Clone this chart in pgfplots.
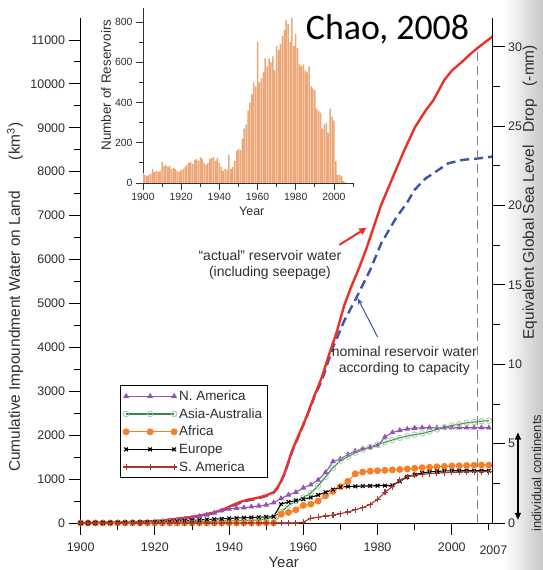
\documentclass[border=0pt]{standalone}
\usepackage{pgfplots}
\pgfplotsset{compat=1.18}
\usepackage{pgfplotstable}
\usepackage{fontspec}
\setmainfont{Liberation Sans}
\newfontfamily\carlito{Carlito}
\usetikzlibrary{arrows.meta}

\definecolor{barc}{RGB}{236,168,120}
\definecolor{redl}{RGB}{236,48,40}
\definecolor{bluel}{RGB}{58,84,170}
\definecolor{purp}{RGB}{150,80,185}
\definecolor{grn}{RGB}{55,135,75}
\definecolor{lgrn}{RGB}{150,205,150}
\definecolor{orng}{RGB}{245,128,40}
\definecolor{brn}{RGB}{165,55,45}
\definecolor{txtg}{RGB}{45,45,45}

\pgfplotstableread{
year na asia africa europe sa
1900 0 0 0 0 0
1902 2 0 0 2 0
1904 4 0 0 4 0
1906 6 0 0 6 0
1908 8 2 0 8 0
1910 10 4 0 10 0
1912 14 6 0 12 0
1914 18 8 0 14 0
1916 22 10 0 16 0
1918 26 12 0 18 0
1920 30 14 0 20 0
1922 40 16 0 26 0
1924 50 18 0 34 0
1926 62 20 0 42 0
1928 80 24 0 50 0
1930 110 28 0 60 0
1932 150 32 0 70 0
1934 185 36 0 80 0
1936 230 40 0 88 0
1938 280 44 0 96 0
1940 320 48 0 104 0
1942 340 52 0 112 0
1944 350 56 0 120 0
1946 370 60 0 126 0
1948 390 70 0 132 0
1950 410 90 0 138 0
1952 460 140 0 145 0
1954 560 250 200 430 0
1956 640 400 240 480 0
1958 700 500 300 510 0
1960 800 580 400 540 20
1962 870 680 430 580 110
1964 980 850 500 640 130
1966 1150 1050 620 700 160
1968 1400 1260 720 760 180
1970 1460 1420 830 820 210
1972 1560 1510 950 830 250
1974 1640 1600 1120 835 300
1976 1690 1670 1160 840 350
1978 1720 1730 1180 845 420
1980 1760 1790 1190 850 540
1982 1960 1840 1200 850 700
1984 2060 1890 1210 860 830
1986 2110 1940 1220 950 980
1988 2140 1980 1230 1050 1050
1990 2160 2010 1245 1100 1090
1992 2170 2040 1260 1140 1110
1994 2170 2080 1270 1165 1125
1996 2170 2130 1280 1175 1135
1998 2170 2180 1290 1185 1145
2000 2170 2220 1300 1190 1150
2002 2170 2250 1305 1190 1160
2004 2170 2280 1310 1190 1165
2006 2170 2300 1315 1190 1170
2008 2170 2320 1320 1190 1170
2010 2170 2330 1320 1190 1170
}\cont

\pgfplotstableread{
year n
1900 50
1901 40
1902 35
1903 40
1904 45
1905 70
1906 55
1907 60
1908 55
1909 60
1910 105
1911 85
1912 90
1913 80
1914 85
1915 70
1916 75
1917 70
1918 60
1919 55
1920 65
1921 70
1922 80
1923 90
1924 100
1925 105
1926 95
1927 115
1928 120
1929 110
1930 130
1931 120
1932 100
1933 90
1934 100
1935 120
1936 125
1937 130
1938 110
1939 125
1940 100
1941 80
1942 60
1943 70
1944 65
1945 140
1946 70
1947 80
1948 110
1949 160
1950 170
1951 165
1952 220
1953 270
1954 290
1955 360
1956 400
1957 440
1958 500
1959 480
1960 700
1961 500
1962 520
1963 550
1964 620
1965 580
1966 620
1967 600
1968 630
1969 560
1970 680
1971 660
1972 690
1973 730
1974 760
1975 810
1976 790
1977 700
1978 820
1979 680
1980 740
1981 670
1982 590
1983 580
1984 590
1985 560
1986 550
1987 580
1988 480
1989 470
1990 460
1991 370
1992 360
1993 350
1994 270
1995 290
1996 300
1997 250
1998 370
1999 330
2000 310
2001 110
2002 40
2003 40
2004 35
2005 10
2006 5
}\resv

\begin{document}
\begin{tikzpicture}
\shade[left color=white, right color=black!22] (424bp,-47bp) rectangle (462.3bp,523bp);
% ---------- main axis (km^3)
\begin{axis}[
  at={(0,0)}, anchor=south west, scale only axis,
  width=412bp, height=505bp,
  xmin=1900, xmax=2011, ymin=0, ymax=11500,
  axis x line*=bottom, axis y line*=left,
  axis line style={-, line width=0.9pt},
  tick align=outside,
  xtick={1900,1920,...,2000}, minor xtick={1910,1930,...,2010},
  ytick={0,1000,...,11000}, minor ytick={500,1500,...,10500},
  scaled y ticks=false, scaled x ticks=false,
  major tick length=12bp, minor tick length=7bp,
  every tick/.style={black, line width=0.9pt},
  /pgf/number format/assume math mode=true,
  /pgf/number format/1000 sep={},
  ticklabel style={font=\fontsize{12.5}{13}\selectfont, text=txtg},
  xticklabel style={yshift=-4bp},
  xlabel={Year}, ylabel={Cumulative Impoundment Water on Land\hspace{2em}(km\textsuperscript{3})},
  xlabel style={at={(axis description cs:0.493,-0.079)}, anchor=center, font=\fontsize{15}{16}\selectfont, text=txtg},
  ylabel style={at={(axis description cs:-0.159,0.447)}, anchor=center, font=\fontsize{15.5}{16}\selectfont, text=txtg},
  clip=false,
  legend style={at={(0.095,0.273)}, anchor=north west, draw=black, line width=0.8pt,
     font=\fontsize{13.5}{14}\selectfont, text=txtg, row sep=2.6bp, inner sep=3bp, cells={anchor=west}},
  legend image code/.code={\draw[mark repeat=1] plot coordinates {(0bp,0bp) (24bp,0bp) (48bp,0bp)};},
]
\addplot[bluel, line width=2.4pt, dash pattern=on 9bp off 5bp, forget plot] coordinates {
(1900,0) (1905,5) (1910,12) (1915,22) (1918,32) (1922,55) (1927,100) (1930,130)
(1933,175) (1936,225) (1939,310) (1941,390) (1943,460) (1945,510) (1948,565)
(1950,615) (1952,690) (1953,790) (1954,940) (1955,1130) (1957,1630) (1959,2030)
(1961,2430) (1963,2880) (1965,3250) (1968,4000) (1971,4600) (1974,5080)
(1978,5760) (1981,6370) (1985,6950) (1988,7300) (1990,7590) (1993,7850)
(1995,7960) (1999,8190) (2003,8270) (2007,8300) (2011,8345)};
\addplot[redl, line width=2.4pt, forget plot] coordinates {
(1900,0) (1905,5) (1910,12) (1915,22) (1918,32) (1922,55) (1927,107) (1930,140)
(1933,185) (1936,240) (1939,330) (1941,410) (1943,480) (1945,530) (1948,580)
(1950,630) (1952,700) (1953,800) (1954,950) (1955,1150) (1957,1650) (1959,2050)
(1961,2450) (1963,2900) (1965,3320) (1967,3850) (1969,4350) (1971,4950)
(1973,5400) (1975,5800) (1977,6250) (1979,6750) (1981,7250) (1983,7650)
(1985,8050) (1987,8450) (1990,9000) (1993,9400) (1995,9620) (1998,10090)
(2000,10300) (2003,10520) (2005,10680) (2007,10820) (2011,11080)};
\addplot[purp, line width=1.1pt, mark=triangle*, mark size=2.3pt, mark options={solid}] table[x=year,y=na] {\cont};
\addlegendentry{N. America}
\addplot[grn, line width=1.1pt, mark=o, mark size=2.8pt, mark options={draw=lgrn, line width=0.7pt}] table[x=year,y=asia] {\cont};
\addlegendentry{Asia-Australia}
\addplot[orng, line width=1.1pt, mark=*, mark size=2.9pt] table[x=year,y=africa] {\cont};
\addlegendentry{Africa}
\addplot[black, line width=1.1pt, mark=x, mark size=2.6pt] table[x=year,y=europe] {\cont};
\addlegendentry{Europe}
\addplot[brn, line width=1.1pt, mark=+, mark size=3pt] table[x=year,y=sa] {\cont};
\addlegendentry{S. America}
% 2007 line and label
\draw[gray, line width=0.8pt, dash pattern=on 9bp off 5bp] (axis cs:2007,0) -- (axis cs:2007,10820);
\draw[gray, line width=0.7pt] (axis cs:2007,0) ++(0,-3bp) -- ++(8bp,-14bp);
\node[anchor=center, font=\fontsize{12.5}{13}\selectfont, text=txtg, inner sep=0pt] at (axis cs:2011.2,0) [yshift=-27bp] {2007};
% annotations
\node[align=center, font=\fontsize{14}{16}\selectfont, text=txtg] at (axis cs:1951.0,5877) {``actual'' reservoir water\\(including seepage)};
\draw[redl, line width=2pt, -{Triangle[length=7bp,width=7bp]}] (axis cs:1969.7,6333) -- (axis cs:1977,6720);
\node[align=center, font=\fontsize{14}{16}\selectfont, text=txtg] at (axis cs:1987.2,3690) {nominal reservoir water\\according to capacity};
\draw[bluel, line width=1pt, -{Stealth[length=7bp,width=5bp]}] (axis cs:1980,4237) -- (axis cs:1974.6,5125);
\end{axis}
% ---------- right axis (mm)
\begin{axis}[
  at={(0,0)}, anchor=south west, scale only axis,
  width=412bp, height=505bp,
  xmin=1900, xmax=2011, ymin=0, ymax=31.82,
  axis y line*=right, axis x line=none,
  axis line style={-, line width=0.9pt},
  tick align=outside,
  ytick={0,5,...,30}, minor ytick={2.5,7.5,...,27.5},
  major tick length=12bp, minor tick length=7bp,
  every tick/.style={black, line width=0.9pt},
  /pgf/number format/assume math mode=true,
  ticklabel style={font=\fontsize{12.5}{13}\selectfont, text=txtg},
  ylabel={Equivalent Global Sea Level\ \ \ Drop\ \ \ (-mm)},
  ylabel style={at={(axis description cs:1.09,0.655)}, anchor=center, font=\fontsize{15.5}{16}\selectfont, text=txtg},
  clip=false,
]
\addplot[draw=none] coordinates {(1900,0)};
\draw[black, line width=1.3pt, {Triangle[length=7bp,width=6bp]}-{Triangle[length=7bp,width=6bp]}] (axis cs:2017.8,5.7) -- (axis cs:2017.8,0.2);
\node[rotate=90, font=\fontsize{13}{14}\selectfont, text=txtg] at (axis description cs:1.106,0.099) {individual continents};
\end{axis}
% ---------- inset histogram
\begin{axis}[
  at={(62.3bp,340bp)}, anchor=south west, scale only axis,
  width=210bp, height=175bp,
  xmin=1900, xmax=2010, ymin=0, ymax=870,
  axis x line*=bottom, axis y line*=left,
  axis line style={-, line width=0.8pt, black!80},
  tick align=outside,
  xtick={1900,1920,...,2000}, minor xtick={1910,1930,...,2010},
  ytick={0,200,...,800}, minor ytick={100,300,...,700},
  scaled y ticks=false,
  major tick length=7bp, minor tick length=4bp,
  every tick/.style={black!80, line width=0.8pt},
  /pgf/number format/assume math mode=true,
  /pgf/number format/1000 sep={},
  ticklabel style={font=\fontsize{10.5}{11}\selectfont, text=txtg},
  xlabel={Year}, ylabel={Number of Reservoirs},
  xlabel style={at={(axis description cs:0.518,-0.16)}, anchor=center, font=\fontsize{12.5}{13}\selectfont, text=txtg},
  ylabel style={at={(axis description cs:-0.176,0.56)}, anchor=center, font=\fontsize{13.5}{14}\selectfont, text=txtg},
  ybar, bar width=1.5bp,
]
\addplot[fill=barc, draw=none] table[x=year,y=n] {\resv};
\end{axis}
\node[anchor=base, font=\fontsize{36}{40}\carlito] at (306.8bp,483bp) {Chao, 2008};
\pgfresetboundingbox
\path[use as bounding box] (-80.7bp,-47bp) rectangle (462.3bp,523bp);
\end{tikzpicture}
\end{document}
